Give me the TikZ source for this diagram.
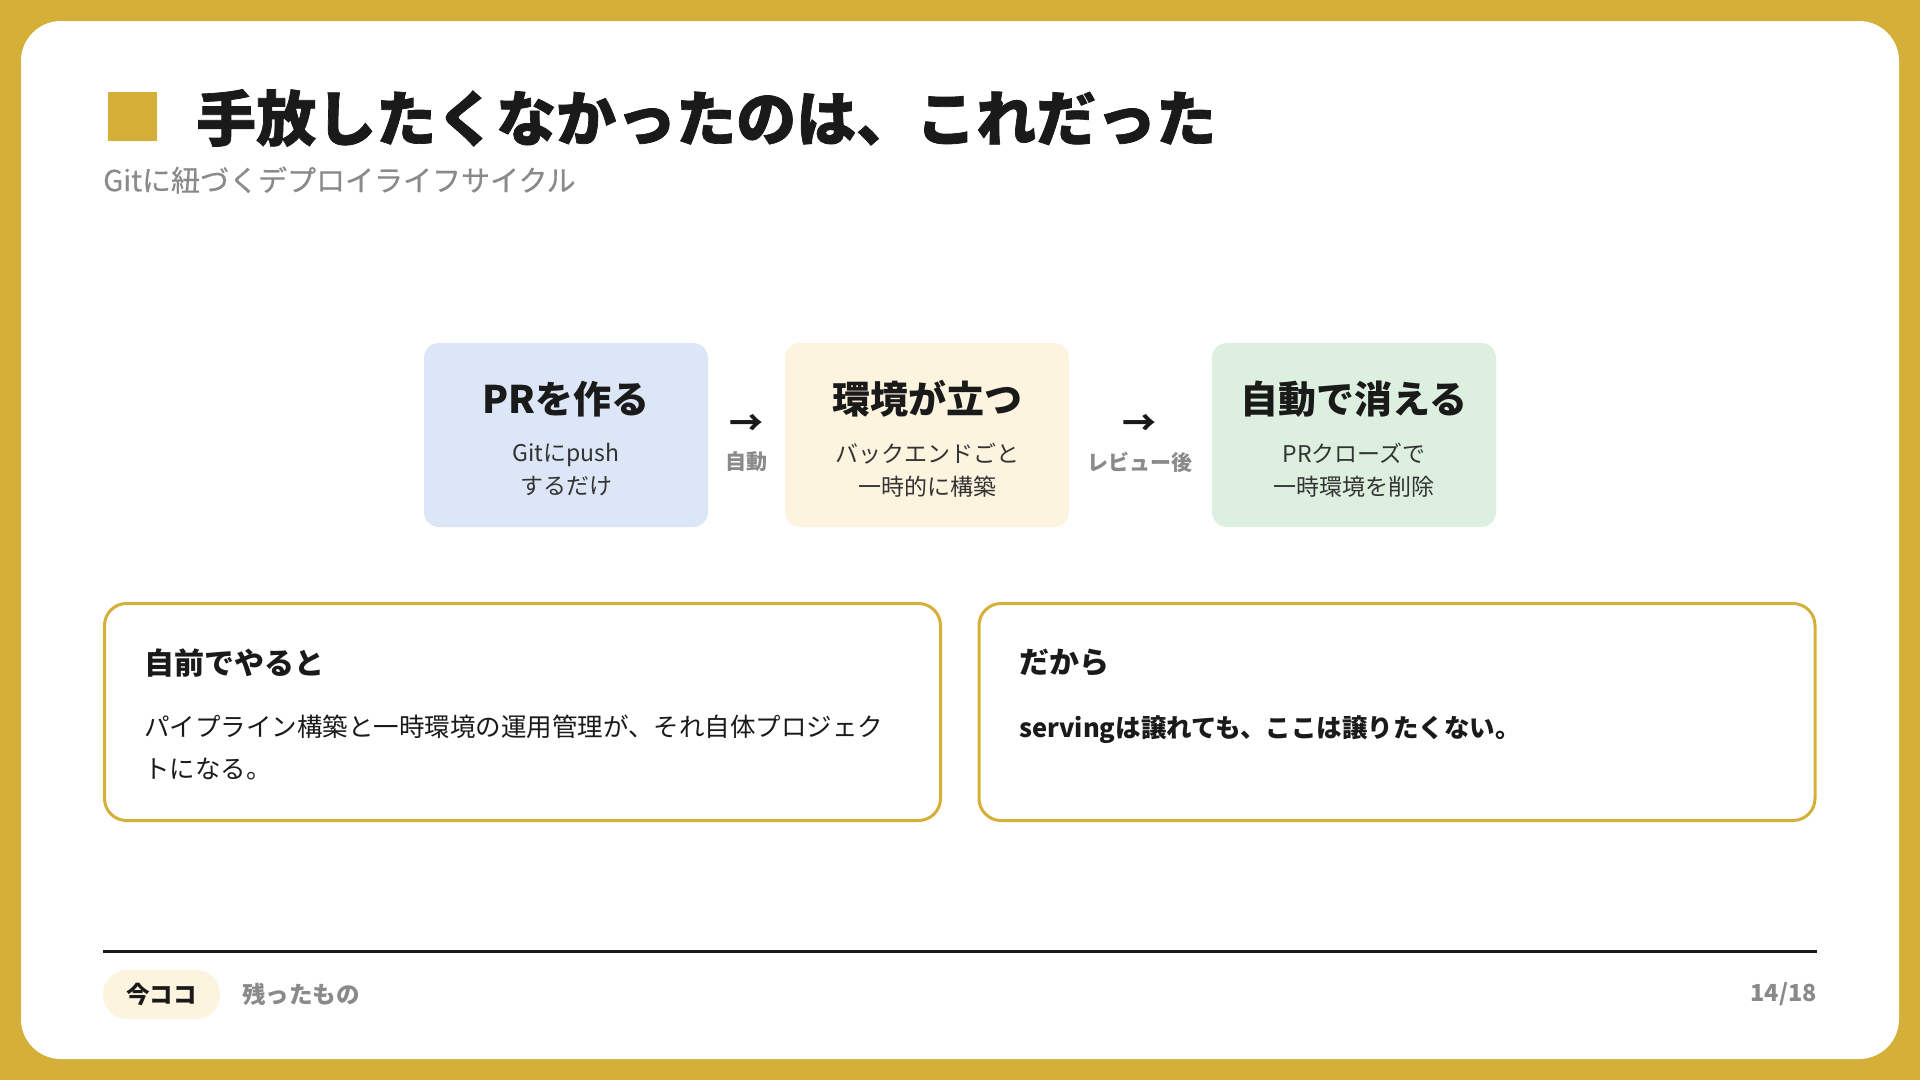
\documentclass[tikz,border=0pt]{standalone}
\usepackage{fontspec}
\setmainfont{Noto Sans CJK JP}
\newfontfamily\jpheavy{Noto Sans CJK JP}[BoldFeatures={FakeBold=1.2}]
\newfontfamily\jpsemi{Noto Sans CJK JP}[FakeBold=0.5]
\definecolor{gold}{HTML}{D4B038}
\definecolor{ink}{HTML}{1A1A1A}
\definecolor{greytxt}{HTML}{8A8A8A}
\definecolor{bodytxt}{HTML}{333333}
\definecolor{blueA}{HTML}{DCE6F7}
\definecolor{creamA}{HTML}{FDF4DF}
\definecolor{greenA}{HTML}{DDF0DF}
\begin{document}
\begin{tikzpicture}[x=1pt,y=-1pt,
  flowbox/.style={rounded corners=15pt, minimum width=284pt, minimum height=184pt, inner sep=0pt},
  flowtitle/.style={font=\fontsize{38}{46}\selectfont\bfseries, text=ink, inner sep=0pt},
  flowsub/.style={font=\fontsize{23}{33}\selectfont, text=bodytxt, align=center, inner sep=0pt},
  arrowglyph/.style={font=\fontsize{34}{40}\selectfont\bfseries, text=ink, inner sep=0pt},
  arrowlabel/.style={font=\fontsize{21}{26}\selectfont\bfseries, text=greytxt, inner sep=0pt},
  card/.style={draw=gold, line width=3pt, rounded corners=22pt, fill=white, minimum width=836pt, minimum height=217pt, inner sep=0pt},
  cardtitle/.style={font=\fontsize{30}{36}\selectfont\bfseries, text=ink, anchor=west, inner sep=0pt},
  cardbody/.style={font=\fontsize{25.5}{41.5}\selectfont, text=ink, anchor=north west, align=left, inner sep=0pt},
  foot/.style={font=\fontsize{23.5}{28}\selectfont\bfseries, inner sep=0pt}
]
\useasboundingbox (0,0) rectangle (1920,1080);
\fill[gold] (0,0) rectangle (1920,1080);
\fill[white, rounded corners=40pt] (21,21) rectangle (1899,1059);

% title
\fill[gold] (108,92) rectangle (157,141);
\node[anchor=west, inner sep=0pt, font=\jpheavy\fontsize{60}{70}\selectfont\bfseries, text=ink] (title) at (196,118) {手放したくなかったのは、これだった};
\node[anchor=west, inner sep=0pt, font=\jpsemi\fontsize{29}{34}\selectfont, text=greytxt] (subtitle) at (103,180) {Gitに紐づくデプロイライフサイクル};

% flow boxes
\node[flowbox, fill=blueA] (b1) at (566,435) {};
\node[flowbox, fill=creamA] (b2) at (927,435) {};
\node[flowbox, fill=greenA] (b3) at (1354,435) {};

\node[flowtitle] (t1) at (566,399) {PRを作る};
\node[flowsub] (s1) at (566,470) {Gitにpush\\するだけ};
\node[flowtitle] (t2) at (927,399) {環境が立つ};
\node[flowsub] (s2) at (927,470) {バックエンドごと\\一時的に構築};
\node[flowtitle] (t3) at (1354,399) {自動で消える};
\node[flowsub] (s3) at (1354,470) {PRクローズで\\一時環境を削除};

\node[arrowglyph] (a1) at (746,425) {→};
\node[arrowlabel] (l1) at (746,462) {自動};
\node[arrowglyph] (a2) at (1139,425) {→};
\node[arrowlabel] (l2) at (1140,462) {レビュー後};

% cards
\node[card] (c1) at (522.5,712) {};
\node[card] (c2) at (1397,712) {};
\node[cardtitle] (c1t) at (144,663) {自前でやると};
\node[cardbody] (c1b) at (144,715) {パイプライン構築と一時環境の運用管理が、それ自体プロジェク\\トになる。};
\node[cardtitle] (c2t) at (1019,663) {だから};
\node[cardbody, font=\fontsize{25.5}{41.5}\selectfont\bfseries] (c2b) at (1019,715) {servingは譲れても、ここは譲りたくない。};

% footer
\draw[line width=3pt, ink] (103,951) -- (1817,951);
\node[foot, fill=creamA, rounded corners=24pt, minimum width=117pt, minimum height=49pt, text=ink] (now) at (161.5,994.5) {今ココ};
\node[foot, anchor=west, text=greytxt] (next) at (242,994.5) {残ったもの};
\node[foot, anchor=east, text=greytxt] (page) at (1817,994.5) {14/18};
\end{tikzpicture}
\end{document}
